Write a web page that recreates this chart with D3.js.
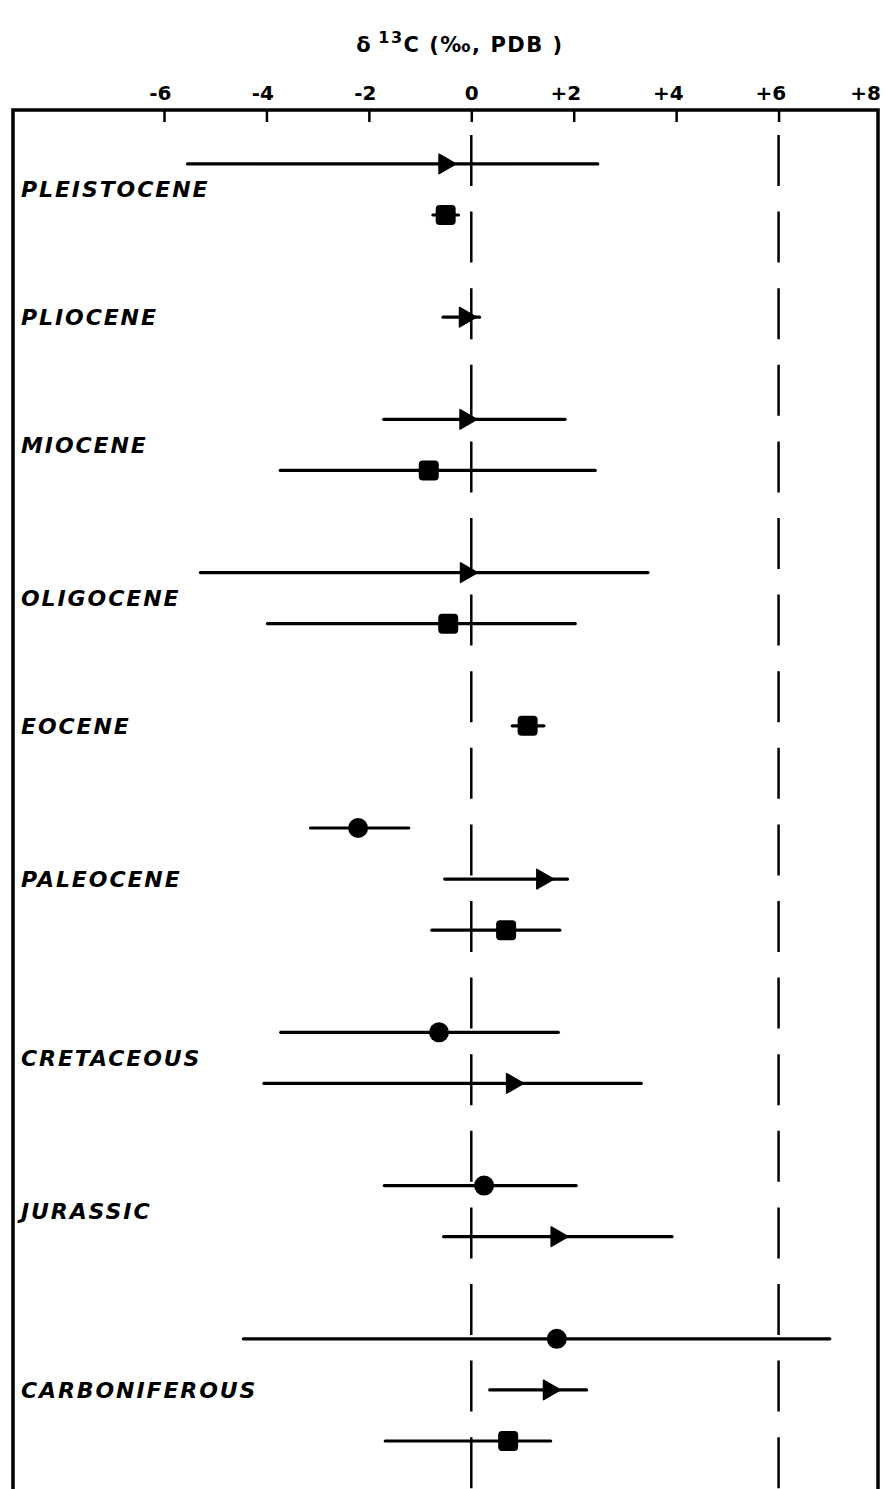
<!DOCTYPE html>
<html>
<head>
<meta charset="utf-8">
<script src="https://cdn.jsdelivr.net/npm/d3@7/dist/d3.min.js"></script>
<style>
  html, body { margin: 0; padding: 0; background: #fff; }
  svg { display: block; }
</style>
</head>
<body>
<svg id="chart" width="886" height="1489"></svg>
<script>
// ---------- data ----------
const tickValues = [-6, -4, -2, 0, 2, 4, 6, 8];
const tickLabels = ["-6", "-4", "-2", "0", "+2", "+4", "+6", "+8"];
const refLines = [0, 6];

const periods    = ["PLEISTOCENE", "PLIOCENE", "MIOCENE", "OLIGOCENE", "EOCENE", "PALEOCENE", "CRETACEOUS", "JURASSIC", "CARBONIFEROUS"];
const labelSlots = [2, 7, 12, 18, 23, 29, 36, 42, 49];

// triangle series
const triPeriod = ["PLEISTOCENE", "PLIOCENE", "MIOCENE", "OLIGOCENE", "PALEOCENE", "CRETACEOUS", "JURASSIC", "CARBONIFEROUS"];
const triSlot   = [1, 7, 11, 17, 29, 37, 43, 49];
const triMean   = [-0.52, -0.12, -0.11, -0.10, 1.39, 0.80, 1.67, 1.52];
const triMin    = [-5.54, -0.55, -1.71, -5.29, -0.52, -4.05, -0.54, 0.36];
const triMax    = [2.47, 0.16, 1.83, 3.45, 1.88, 3.32, 3.92, 2.25];

// square series
const sqPeriod = ["PLEISTOCENE", "MIOCENE", "OLIGOCENE", "EOCENE", "PALEOCENE", "CARBONIFEROUS"];
const sqSlot   = [3, 13, 19, 23, 31, 51];
const sqMean   = [-0.50, -0.83, -0.45, 1.10, 0.68, 0.72];
const sqMin    = [-0.75, -3.73, -3.98, 0.80, -0.77, -1.68];
const sqMax    = [-0.25, 2.42, 2.03, 1.42, 1.73, 1.55];

// circle series
const ciPeriod = ["PALEOCENE", "CRETACEOUS", "JURASSIC", "CARBONIFEROUS"];
const ciSlot   = [27, 35, 41, 47];
const ciMean   = [-2.21, -0.63, 0.25, 1.67];
const ciMin    = [-3.14, -3.72, -1.70, -4.45];
const ciMax    = [-1.22, 1.70, 2.05, 7.00];

// ---------- layout ----------
const W = 886, H = 1489;
const frame = { left: 13, top: 110, right: 878 };
const svg = d3.select("#chart");

const x = d3.scaleLinear().domain([-6, 8]).range([164, 881]);
const y = d3.scaleLinear().domain([0, 51]).range([138.4, 1441]);

const FONT = "'DejaVu Sans', 'Liberation Sans', sans-serif";

// title
const title = svg.append("text")
  .attr("x", 460).attr("y", 52)
  .attr("text-anchor", "middle")
  .attr("font-family", FONT).attr("font-weight", "bold")
  .attr("font-size", 21).attr("letter-spacing", 1.5).attr("fill", "#000");
title.append("tspan").text("δ");
title.append("tspan").attr("dx", 6).attr("dy", -9).attr("font-size", 16).text("13");
title.append("tspan").attr("dy", 9).text("C (‰, PDB )");

// frame
svg.append("path")
  .attr("d", `M${frame.left},${H + 5} V${frame.top} H${frame.right} V${H + 5}`)
  .attr("fill", "none").attr("stroke", "#000").attr("stroke-width", 3.5);

// top axis (ticks point down inside the frame)
const axis = d3.axisTop(x)
  .tickValues(tickValues.filter(v => v < 8))
  .tickSizeInner(-12).tickSizeOuter(0)
  .tickFormat("");
const gAxis = svg.append("g").attr("transform", `translate(0,${frame.top})`).call(axis);
gAxis.select(".domain").remove();
gAxis.selectAll(".tick line").attr("stroke", "#000").attr("stroke-width", 2.5);

// tick labels: digit centered on the tick
svg.append("g").selectAll("text").data(tickValues).join("text")
  .attr("x", d => Math.min(x(d) + 7.5, frame.right + 3))
  .attr("y", 100)
  .attr("text-anchor", "end")
  .attr("font-family", FONT).attr("font-weight", "bold")
  .attr("font-size", 20).attr("fill", "#000")
  .text((d, i) => tickLabels[i]);

// dashed reference lines
svg.append("g").selectAll("line").data(refLines).join("line")
  .attr("x1", d => x(d)).attr("x2", d => x(d))
  .attr("y1", 135).attr("y2", H + 5)
  .attr("stroke", "#000").attr("stroke-width", 2.5)
  .attr("stroke-dasharray", "51,25.6");

// period labels
svg.append("g").selectAll("text").data(periods).join("text")
  .attr("x", 21)
  .attr("y", (d, i) => y(labelSlots[i]))
  .attr("dy", "0.36em")
  .attr("font-family", FONT).attr("font-weight", "bold").attr("font-style", "italic")
  .attr("font-size", 22).attr("letter-spacing", 1.9)
  .attr("fill", "#000")
  .text(d => d);

function series(slot, mean, mn, mx) {
  return slot.map((s, i) => ({ slot: s, mean: mean[i], min: mn[i], max: mx[i] }));
}
const tri = series(triSlot, triMean, triMin, triMax);
const sq  = series(sqSlot, sqMean, sqMin, sqMax);
const ci  = series(ciSlot, ciMean, ciMin, ciMax);

// range bars
const bars = svg.append("g").attr("stroke", "#000").attr("stroke-width", 3.2).attr("stroke-linecap", "round");
bars.selectAll("line").data([...tri, ...sq, ...ci]).join("line")
  .attr("x1", d => x(d.min)).attr("x2", d => x(d.max))
  .attr("y1", d => y(d.slot)).attr("y2", d => y(d.slot));

// triangles (pointing right)
const triPath = d3.symbol(d3.symbolTriangle, 165)();
svg.append("g").selectAll("path").data(tri).join("path")
  .attr("d", triPath)
  .attr("transform", d => `translate(${x(d.mean)},${y(d.slot)}) rotate(90)`)
  .attr("fill", "#000").attr("stroke", "#000").attr("stroke-width", 1.5).attr("stroke-linejoin", "round");

// squares
svg.append("g").selectAll("rect").data(sq).join("rect")
  .attr("x", d => x(d.mean) - 10).attr("y", d => y(d.slot) - 10)
  .attr("width", 20).attr("height", 20).attr("rx", 4)
  .attr("fill", "#000");

// circles
svg.append("g").selectAll("circle").data(ci).join("circle")
  .attr("cx", d => x(d.mean)).attr("cy", d => y(d.slot))
  .attr("r", 10).attr("fill", "#000");
</script>
</body>
</html>
